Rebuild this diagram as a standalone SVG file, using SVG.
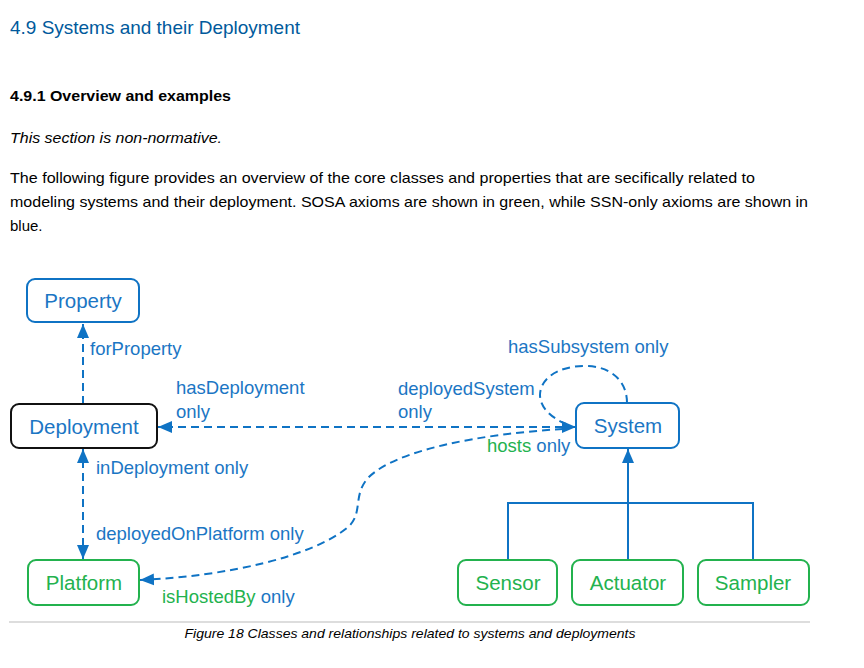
<svg xmlns="http://www.w3.org/2000/svg" width="864" height="668" viewBox="0 0 864 668">
<style>
.page{font-family:"Liberation Sans",Arial,sans-serif;fill:#000}
.node rect{fill:#fff;stroke-width:2}
.blue rect{stroke:#0F73C4}
.green rect{stroke:#23B24E}
.black rect{stroke:#111}
.nt{font-family:"Liberation Sans",Arial,sans-serif;font-size:20.5px;text-anchor:middle}
.blue .nt,.black .nt{fill:#1B76C4}
.green .nt{fill:#23B24E}
.lbl{font-family:"Liberation Sans",Arial,sans-serif;font-size:18.5px;fill:#1B76C4}
.g{fill:#23B24E}
.dash{fill:none;stroke:#0F73C4;stroke-width:2;stroke-dasharray:8 5}
.solid{fill:none;stroke:#0F73C4;stroke-width:2}
</style>
<defs>
<marker id="ah" markerUnits="userSpaceOnUse" markerWidth="16" markerHeight="14" refX="14" refY="7" orient="auto-start-reverse" viewBox="0 0 16 14">
<path d="M0,1 L14,7 L0,13 Z" fill="#0F73C4"/>
</marker>
</defs>
<rect width="864" height="668" fill="#fff"/>
<g id="page-text">
<text x="10" y="34" font-family="Liberation Sans,Arial,sans-serif" font-size="19" fill="#005A9C" textLength="290" lengthAdjust="spacingAndGlyphs">4.9 Systems and their Deployment</text>
<text x="10" y="101" class="page" font-size="15" font-weight="bold" textLength="221" lengthAdjust="spacingAndGlyphs">4.9.1 Overview and examples</text>
<text x="10" y="143" class="page" font-size="15" font-style="italic" textLength="212" lengthAdjust="spacingAndGlyphs">This section is non-normative.</text>
<text x="10" y="183" class="page" font-size="15" textLength="745" lengthAdjust="spacingAndGlyphs">The following figure provides an overview of the core classes and properties that are secifically related to</text>
<text x="10" y="207" class="page" font-size="15" textLength="798" lengthAdjust="spacingAndGlyphs">modeling systems and their deployment. SOSA axioms are shown in green, while SSN-only axioms are shown in</text>
<text x="10" y="231" class="page" font-size="15">blue.</text>
</g>
<g id="connectors">
<line class="dash" x1="83" y1="404" x2="83" y2="324" marker-end="url(#ah)"/>
<line class="dash" x1="83" y1="559" x2="83" y2="449" marker-start="url(#ah)" marker-end="url(#ah)"/>
<line class="dash" x1="576" y1="427" x2="158" y2="427" marker-start="url(#ah)" marker-end="url(#ah)"/>
<path class="dash" d="M563,429 C480,434 395,450 368,478 C352,496 364,514 347,528 C312,556 230,576 140,580" marker-end="url(#ah)"/>
<path class="dash" d="M627,403 C627,380 610,366 585,366 C556,366 540,380 540,395 C540,408 552,418 566,424"/>
<polyline class="solid" points="508,560 508,503 753,503 753,560"/>
<line class="solid" x1="628" y1="560" x2="628" y2="449" marker-end="url(#ah)"/>
</g>
<g id="labels">
<text class="lbl" x="90" y="355">forProperty</text>
<text class="lbl" x="176" y="394">hasDeployment</text>
<text class="lbl" x="176" y="418">only</text>
<text class="lbl" x="398" y="395">deployedSystem</text>
<text class="lbl" x="398" y="418">only</text>
<text class="lbl" x="508" y="353">hasSubsystem only</text>
<text class="lbl" x="487" y="452"><tspan class="g">hosts</tspan> only</text>
<text class="lbl" x="96" y="474">inDeployment only</text>
<text class="lbl" x="96" y="540">deployedOnPlatform only</text>
<text class="lbl" x="162" y="603"><tspan class="g">isHostedBy</tspan> only</text>
</g>
<g id="node-property" class="node blue"><rect x="27" y="279" width="112" height="43" rx="8"/><text class="nt" x="83" y="308">Property</text></g>
<g id="node-deployment" class="node black"><rect x="11" y="404" width="146" height="44" rx="8"/><text class="nt" x="84" y="434">Deployment</text></g>
<g id="node-system" class="node blue"><rect x="576" y="403" width="103" height="45" rx="8"/><text class="nt" x="628" y="433">System</text></g>
<g id="node-platform" class="node green"><rect x="28" y="560" width="111" height="45" rx="8"/><text class="nt" x="84" y="590">Platform</text></g>
<g id="node-sensor" class="node green"><rect x="458" y="560" width="99" height="45" rx="8"/><text class="nt" x="508" y="590">Sensor</text></g>
<g id="node-actuator" class="node green"><rect x="572" y="560" width="111" height="45" rx="8"/><text class="nt" x="628" y="590">Actuator</text></g>
<g id="node-sampler" class="node green"><rect x="698" y="560" width="111" height="45" rx="8"/><text class="nt" x="753" y="590">Sampler</text></g>
<g id="caption">
<line x1="9" y1="622" x2="810" y2="622" stroke="#bbb" stroke-width="1"/>
<text x="410" y="638" text-anchor="middle" class="page" font-size="13" font-style="italic" textLength="451" lengthAdjust="spacingAndGlyphs">Figure 18 Classes and relationships related to systems and deployments</text>
</g>
</svg>
